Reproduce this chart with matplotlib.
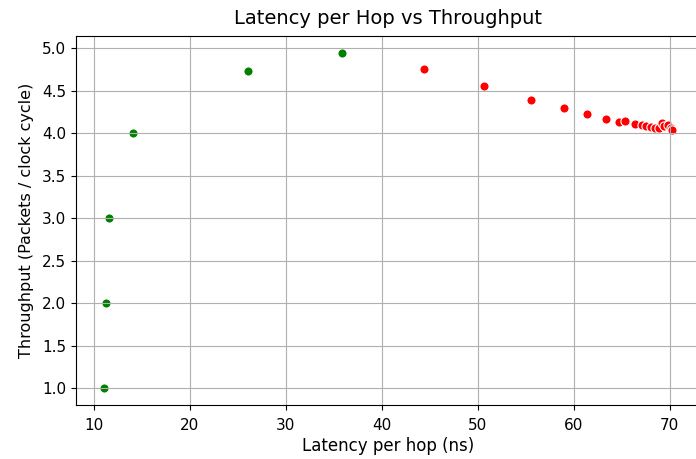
import matplotlib
import matplotlib.pyplot as plt

matplotlib.use('Agg')

# points below saturation (green) and above (red)
green_lat = [11.1, 11.3, 11.6, 14.1, 26.1, 35.9]
green_thr = [1.0, 2.0, 3.0, 4.0, 4.73, 4.945]

red_lat = [44.4, 50.7, 55.6, 59.0, 61.4, 63.4, 64.7, 65.3, 66.4, 67.1, 67.5,
           68.0, 68.5, 68.9, 69.2, 69.4, 69.8, 70.1, 70.2]
red_thr = [4.756, 4.56, 4.39, 4.29, 4.227, 4.17, 4.13, 4.137, 4.105, 4.09, 4.08,
           4.07, 4.06, 4.06, 4.12, 4.08, 4.09, 4.06, 4.04]

fig = plt.figure(figsize=(6.96, 4.59), dpi=100)
ax = fig.add_axes([76 / 696, 1 - 405 / 459, 624 / 696, 369 / 459])

ax.scatter(green_lat, green_thr, s=44, color='green', edgecolors='white', linewidths=0.8)
ax.scatter(red_lat, red_thr, s=44, color='red', edgecolors='white', linewidths=0.8)

ax.set_title('Latency per Hop vs Throughput', fontsize=14, pad=9)
ax.set_xlabel('Latency per hop (ns)', fontsize=12, labelpad=3.5)
ax.set_ylabel('Throughput (Packets / clock cycle)', fontsize=11.5, labelpad=6)
ax.tick_params(labelsize=11)
ax.tick_params(axis='x', pad=5.5)
ax.grid(True)

fig.savefig('out.png', dpi=100)
